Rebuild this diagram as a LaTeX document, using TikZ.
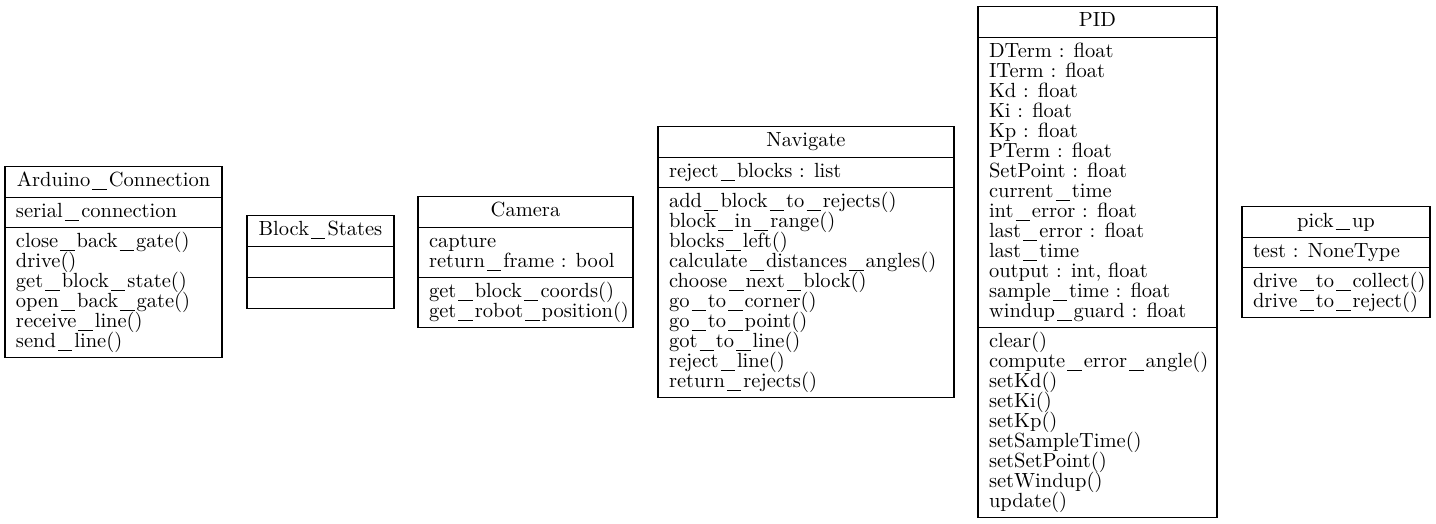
\documentclass[tikz,border=0pt]{standalone}
\tikzset{
  classbox/.style={draw=black, line width=1.2pt, inner sep=0pt, outer sep=0pt},
  sepline/.style={draw=black, line width=1.2pt},
  txt/.style={inner sep=0pt, outer sep=0pt, font=\fontsize{10}{12}\selectfont, scale=2.05}
}
\newcommand\us{\kern0.1em\rule[-0.16em]{0.7em}{0.06em}\kern0.1em}
\newcommand\umlbox[8]{%
  \pgfmathsetmacro\ubha{ifthenelse(#5==0,31,20*#5+10)}%
  \pgfmathsetmacro\ubhm{ifthenelse(#7==0,31,20*#7+10)}%
  \pgfmathsetmacro\ubh{31+\ubha+\ubhm}%
  \pgfmathsetmacro\ubtop{262-\ubh/2}%
  \pgfmathsetmacro\ubsa{\ubtop+31}%
  \pgfmathsetmacro\ubsm{\ubsa+\ubha}%
  \pgfmathsetmacro\ubw{#3-#2}%
  \node[classbox, minimum width=\ubw pt, minimum height=\ubh pt, anchor=north west] (#1) at (#2,\ubtop) {};
  \draw[sepline] (#1.west |- 0,\ubsa) -- (#1.east |- 0,\ubsa);
  \draw[sepline] (#1.west |- 0,\ubsm) -- (#1.east |- 0,\ubsm);
  \node[txt, anchor=base] (#1-t) at ({(#2+#3)/2},\ubtop+20.5) {#4};
  \ifnum#5>0
    \foreach \t [count=\i from 0] in {#6}
      \node[txt, anchor=base west] (#1-a\i) at (#2+11,\ubsa+20+20*\i) {\t};
  \fi
  \ifnum#7>0
    \foreach \t [count=\i from 0] in {#8}
      \node[txt, anchor=base west] (#1-m\i) at (#2+11,\ubsm+20+20*\i) {\t};
  \fi
}
\begin{document}
\begin{tikzpicture}[x=1pt,y=-1pt]
\useasboundingbox (0,0) rectangle (1436,524);
\umlbox{ard}{5}{222}{Arduino\us Connection}{1}{serial\us connection}{6}{close\us back\us gate(), drive(), get\us block\us state(), open\us back\us gate(), receive\us line(), send\us line()}
\umlbox{blk}{247}{394}{Block\us States}{0}{}{0}{}
\umlbox{cam}{418}{633}{Camera}{2}{capture, return\us frame : bool}{2}{get\us block\us coords(), get\us robot\us position()}
\umlbox{nav}{658}{954}{Navigate}{1}{reject\us blocks : list}{10}{add\us block\us to\us rejects(), block\us in\us range(), blocks\us left(), calculate\us distances\us angles(), choose\us next\us block(), go\us to\us corner(), go\us to\us point(), got\us to\us line(), reject\us line(), return\us rejects()}
\umlbox{pid}{978}{1217}{PID}{14}{DTerm : float, ITerm : float, Kd : float, Ki : float, Kp : float, PTerm : float, SetPoint : float, current\us time, int\us error : float, last\us error : float, last\us time, {output : int, float}, sample\us time : float, windup\us guard : float}{9}{clear(), compute\us error\us angle(), setKd(), setKi(), setKp(), setSampleTime(), setSetPoint(), setWindup(), update()}
\umlbox{pick}{1242}{1430}{pick\us up}{1}{test : NoneType}{2}{drive\us to\us collect(), drive\us to\us reject()}
\end{tikzpicture}
\end{document}
